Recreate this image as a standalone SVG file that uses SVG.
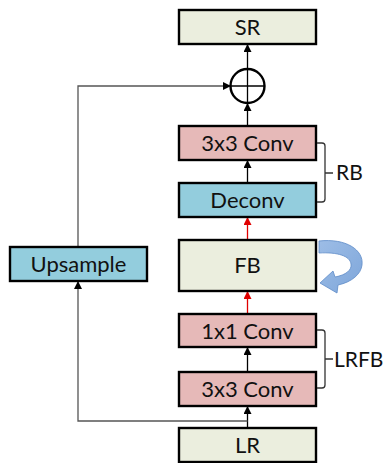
<svg xmlns="http://www.w3.org/2000/svg" width="386" height="463" viewBox="0 0 386 463">
<defs>
<style>
.box{stroke:#000;stroke-width:2.4}
.g{fill:#EBEEDE}
.p{fill:#E6B9B8}
.b{fill:#93CDDD}
.t{font-family:Lato,"Liberation Sans",sans-serif;font-size:22px;fill:#111;text-anchor:middle}
.lbl{font-family:Lato,"Liberation Sans",sans-serif;font-size:21px;fill:#111}
.k{stroke:#000;stroke-width:1.3;fill:none}
.gr{stroke:#555;stroke-width:1.3;fill:none}
.r{stroke:#E00000;stroke-width:1.3;fill:none}
.br{stroke:#333;stroke-width:1.3;fill:none}
</style>
<marker id="ak" markerWidth="8" markerHeight="8" refX="7" refY="4" orient="auto" markerUnits="userSpaceOnUse"><path d="M0,0 L8,4 L0,8 Z" fill="#000"/></marker>
<marker id="ar" markerWidth="8" markerHeight="8" refX="7" refY="4" orient="auto" markerUnits="userSpaceOnUse"><path d="M0,0 L8,4 L0,8 Z" fill="#E00000"/></marker>
<linearGradient id="cg" x1="0" y1="0" x2="1" y2="1">
<stop offset="0" stop-color="#9DBDE6"/>
<stop offset="1" stop-color="#7EA6DA"/>
</linearGradient>
</defs>
<g id="connectors">
<line class="k" x1="247.5" y1="428" x2="247.5" y2="407" marker-end="url(#ak)"/>
<polyline class="gr" points="247.5,421 78,421 78,282" marker-end="url(#ak)"/>
<polyline class="gr" points="78,247 78,86 230,86" marker-end="url(#ak)"/>
<line class="k" x1="247.5" y1="372" x2="247.5" y2="348" marker-end="url(#ak)"/>
<line class="r" x1="247.5" y1="314" x2="247.5" y2="292" marker-end="url(#ar)"/>
<line class="r" x1="247.5" y1="240" x2="247.5" y2="218" marker-end="url(#ar)"/>
<line class="k" x1="247.5" y1="183" x2="247.5" y2="161" marker-end="url(#ak)"/>
<line class="k" x1="247.5" y1="126" x2="247.5" y2="104" marker-end="url(#ak)"/>
<line class="k" x1="247.5" y1="69" x2="247.5" y2="45" marker-end="url(#ak)"/>
</g>
<g id="sum">
<circle cx="247.5" cy="86" r="17" fill="#fff" stroke="#000" stroke-width="2.4"/>
<line x1="230.5" y1="86" x2="264.5" y2="86" stroke="#000" stroke-width="1.3"/>
<line x1="247.5" y1="69" x2="247.5" y2="103" stroke="#000" stroke-width="1.3"/>
</g>
<g id="SR"><rect class="box g" x="179" y="10" width="137" height="34"/><text class="t" x="247.5" y="35">SR</text></g>
<g id="conv3a"><rect class="box p" x="179" y="126" width="137" height="34"/><text class="t" x="247.5" y="151">3x3 Conv</text></g>
<g id="deconv"><rect class="box b" x="179" y="183" width="137" height="34"/><text class="t" x="247.5" y="208">Deconv</text></g>
<g id="FB"><rect class="box g" x="179" y="240" width="137" height="51"/><text class="t" x="247.5" y="273">FB</text></g>
<g id="conv1"><rect class="box p" x="179" y="314" width="137" height="33"/><text class="t" x="247.5" y="338.5">1x1 Conv</text></g>
<g id="conv3b"><rect class="box p" x="179" y="372" width="137" height="34"/><text class="t" x="247.5" y="397">3x3 Conv</text></g>
<g id="LR"><rect class="box g" x="179" y="428" width="137" height="34"/><text class="t" x="247.5" y="453">LR</text></g>
<g id="upsample"><rect class="box b" x="10" y="247" width="137" height="34"/><text class="t" x="78.5" y="272">Upsample</text></g>
<g id="feedback">
<path d="M319,241 C346,238 364,250 362,265 C361,274 352,282 338,285 L337,293 L320,283 L333,271 L335,277 C346,275 352,270 351,264 C350,256 338,252 319,253 Z" fill="url(#cg)" stroke="#5E8CC8" stroke-width="0.8"/>
</g>
<g id="RB">
<path class="br" d="M317,143 H322 Q325,143 325,146 V199 Q325,202 322,202 H317 M325,173 H333"/>
<text class="lbl" x="336" y="180">RB</text>
</g>
<g id="LRFB">
<path class="br" d="M317,330 H322 Q325,330 325,333 V385 Q325,388 322,388 H317 M325,359 H333"/>
<text class="lbl" x="334" y="366.5">LRFB</text>
</g>
</svg>
